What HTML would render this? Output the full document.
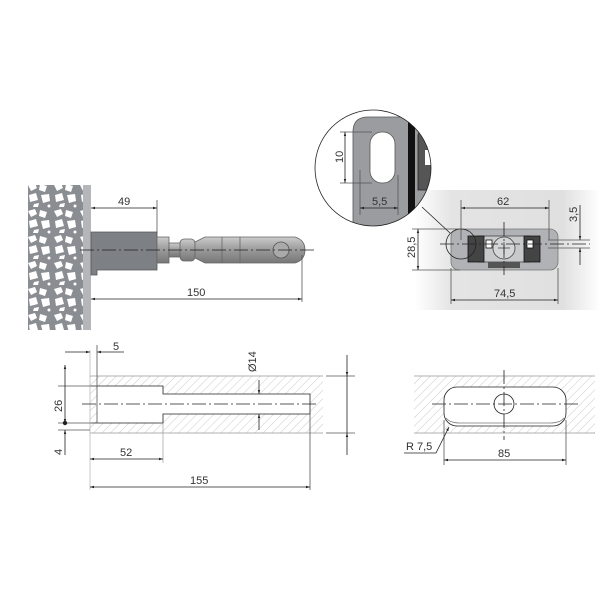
<!DOCTYPE html>
<html><head><meta charset="utf-8"><style>
html,body{margin:0;padding:0;background:#fff}
svg{display:block}
text{font-family:"Liberation Sans",sans-serif;font-size:11px;fill:#333}
</style></head><body>
<svg width="600" height="600" viewBox="0 0 600 600" xmlns="http://www.w3.org/2000/svg">
<defs>
<pattern id="h" width="6" height="6" patternUnits="userSpaceOnUse" patternTransform="rotate(45)">
<line x1="0" y1="0" x2="0" y2="6" stroke="#bbb" stroke-width="0.8"/>
</pattern>
<marker id="a" viewBox="0 0 10 10" refX="10" refY="5" markerWidth="7" markerHeight="5" orient="auto-start-reverse"><path d="M0,2L10,5L0,8z" fill="#222"/></marker>
<linearGradient id="g" x1="0" x2="1"><stop offset="0" stop-color="#fff"/><stop offset="0.2" stop-color="#e4e4e4"/><stop offset="0.8" stop-color="#e0e0e0"/><stop offset="1" stop-color="#fff"/></linearGradient>
<linearGradient id="sh" x1="0" y1="0" x2="0" y2="1"><stop offset="0" stop-color="#ccc"/><stop offset="0.5" stop-color="#999"/><stop offset="1" stop-color="#777"/></linearGradient>
<pattern id="st" width="26" height="26" patternUnits="userSpaceOnUse">
<rect width="26" height="26" fill="#8a8d92"/>
<path d="M2,3 L9,1 L11,6 L5,9 Z" fill="#fff"/>
<path d="M14,2 L21,4 L19,10 L13,8 Z" fill="#fff"/>
<path d="M3,13 L10,11 L12,18 L4,20 Z" fill="#fff"/>
<path d="M15,13 L23,12 L24,19 L17,21 Z" fill="#fff"/>
<path d="M8,22 L13,21 L12,25 L7,25 Z" fill="#fff"/>
<circle cx="23" cy="24" r="1.5" fill="#fff"/>
</pattern>
<clipPath id="c"><circle cx="373" cy="168" r="58"/></clipPath>
</defs>
<g stroke="#222" stroke-width="0.8" fill="none">

<!-- TOP LEFT -->
<rect x="28" y="185" width="58" height="145" fill="url(#st)" stroke="none"/>
<rect x="83" y="185" width="8" height="145" fill="#b4b6b9" stroke="none"/>
<path d="M91,232 H157 V270 H97 V275 H91 Z" fill="#7d8085" stroke="#555"/>
<rect x="157" y="237" width="12" height="26" fill="url(#sh)" stroke="#666"/>
<rect x="169" y="243" width="22" height="14" fill="url(#sh)" stroke="#666"/>
<rect x="180" y="239" width="15" height="22" rx="4" fill="url(#sh)" stroke="#666"/>
<path d="M195,242 L205,237 H295 Q305,240 305,250 Q305,260 295,263 H205 L195,258 Z" fill="url(#sh)" stroke="#666"/>
<line x1="222" y1="237" x2="222" y2="263" stroke="#666"/><line x1="240" y1="237" x2="240" y2="263" stroke="#666"/>
<circle cx="281" cy="250" r="8" fill="#aaa" stroke="#555"/>
<line x1="80" y1="250" x2="316" y2="250" stroke-dasharray="14,3,2,3"/>
<line x1="157" y1="200" x2="157" y2="234" stroke="#555"/>
<line x1="91" y1="208" x2="157" y2="208" marker-start="url(#a)" marker-end="url(#a)"/>
<line x1="302" y1="255" x2="302" y2="302" stroke="#555"/>
<line x1="91" y1="299" x2="302" y2="299" marker-start="url(#a)" marker-end="url(#a)"/>

<!-- TOP RIGHT -->
<rect x="415" y="190" width="185" height="120" fill="url(#g)" stroke="none"/>
<rect x="451" y="229" width="107" height="41" rx="8" fill="#b0b2b5" stroke="#777"/>
<rect x="478" y="236" width="52" height="26" fill="#c8c9cb" stroke="#444"/>
<path d="M468,236 H484 V262 H468 Z" fill="#444" stroke="#111"/>
<path d="M524,236 H540 V262 H524 Z" fill="#444" stroke="#111"/>
<circle cx="504" cy="248" r="11" fill="#d5d6d8" stroke="#444"/>
<path d="M498,248 H510 M504,242 V254" stroke="#444"/>
<rect x="486" y="240" width="6" height="8" fill="#fff" stroke="#111"/>
<rect x="527" y="240" width="6" height="8" fill="#fff" stroke="#111"/>
<rect x="488" y="262" width="32" height="6" fill="#555" stroke="none"/>
<circle cx="461" cy="244" r="15"/>
<line x1="461" y1="200" x2="461" y2="240" stroke="#555"/><line x1="549" y1="200" x2="549" y2="240" stroke="#555"/>
<line x1="461" y1="208" x2="549" y2="208" marker-start="url(#a)" marker-end="url(#a)"/>
<line x1="451" y1="268" x2="451" y2="304" stroke="#555"/><line x1="558" y1="268" x2="558" y2="304" stroke="#555"/>
<line x1="451" y1="300" x2="558" y2="300" marker-start="url(#a)" marker-end="url(#a)"/>
<line x1="412" y1="229" x2="460" y2="229" stroke="#555"/><line x1="412" y1="270" x2="460" y2="270" stroke="#555"/>
<line x1="418" y1="229" x2="418" y2="270" marker-start="url(#a)" marker-end="url(#a)"/>
<line x1="440" y1="244" x2="590" y2="244" stroke-dasharray="14,3,2,3"/>
<line x1="504" y1="222" x2="504" y2="275" stroke-dasharray="14,3,2,3"/>
<line x1="548" y1="240" x2="590" y2="240" stroke="#555"/><line x1="548" y1="248" x2="590" y2="248" stroke="#555"/>
<line x1="580" y1="205" x2="580" y2="240" marker-end="url(#a)"/>
<line x1="580" y1="265" x2="580" y2="248" marker-end="url(#a)"/>
<line x1="422" y1="207" x2="450" y2="233"/>

<!-- magnifier -->
<circle cx="373" cy="168" r="58" fill="#fff" stroke="none"/>
<g clip-path="url(#c)">
<path d="M353,240 V132 Q353,117 368,117 H410 V240 Z" fill="#9a9ca0" stroke="#555"/>
<rect x="370" y="132" width="25" height="51" rx="12" fill="#fff" stroke="#555"/>
<rect x="408" y="110" width="7" height="130" fill="#111" stroke="none"/>
<rect x="415" y="110" width="30" height="130" fill="#9a9ca0" stroke="none"/>
<path d="M418,135 Q422,120 440,118 V190 H418 Z" fill="#555" stroke="#222"/>
<rect x="425" y="150" width="15" height="15" fill="#fff" stroke="none"/>
<line x1="340" y1="132" x2="372" y2="132" stroke="#555"/><line x1="340" y1="183" x2="372" y2="183" stroke="#555"/>
<line x1="345" y1="132" x2="345" y2="183" marker-start="url(#a)" marker-end="url(#a)"/>
<line x1="360" y1="170" x2="360" y2="215" stroke="#555"/><line x1="398" y1="175" x2="398" y2="215" stroke="#555"/>
<line x1="360" y1="208" x2="398" y2="208" marker-start="url(#a)" marker-end="url(#a)"/>
</g>
<circle cx="373" cy="168" r="58" stroke="#222"/>

<!-- BOTTOM LEFT -->
<path d="M90,376 H323 V433 H90 Z M97,386 V423 H163 V414 H310 V394 H163 V386 Z" fill="url(#h)" fill-rule="evenodd" stroke="none"/>
<line x1="90" y1="376" x2="323" y2="376" stroke="#999"/><line x1="90" y1="433" x2="323" y2="433" stroke="#999"/>
<path d="M90,386 H163 V394 H310 V414 H163 V423 H90" />
<line x1="97" y1="386" x2="97" y2="423" stroke="#555"/>
<line x1="90" y1="350" x2="90" y2="490" stroke="#bbb"/>
<line x1="82" y1="404" x2="318" y2="404" stroke-dasharray="14,3,2,3"/>
<line x1="65" y1="352" x2="90" y2="352" marker-end="url(#a)"/>
<line x1="124" y1="352" x2="97" y2="352" marker-end="url(#a)"/>
<line x1="97" y1="345" x2="97" y2="386" stroke="#555"/>
<line x1="58" y1="386" x2="90" y2="386" stroke="#555"/><line x1="58" y1="423" x2="90" y2="423" stroke="#555"/>
<line x1="58" y1="430" x2="90" y2="430" stroke="#555"/>
<line x1="65" y1="365" x2="65" y2="423" marker-start="url(#a)" marker-end="url(#a)"/>
<circle cx="65" cy="423" r="1.8" fill="#222"/>
<line x1="65" y1="455" x2="65" y2="430" marker-end="url(#a)"/>
<line x1="259" y1="380" x2="259" y2="394" marker-end="url(#a)"/>
<line x1="259" y1="430" x2="259" y2="414" marker-end="url(#a)"/>
<line x1="326" y1="376" x2="355" y2="376" stroke="#555"/><line x1="326" y1="433" x2="355" y2="433" stroke="#555"/>
<line x1="347" y1="355" x2="347" y2="376" marker-end="url(#a)"/>
<line x1="347" y1="455" x2="347" y2="433" marker-end="url(#a)"/>
<line x1="347" y1="376" x2="347" y2="433"/>
<line x1="163" y1="423" x2="163" y2="463" stroke="#aaa"/>
<line x1="90" y1="459" x2="163" y2="459" marker-start="url(#a)" marker-end="url(#a)"/>
<line x1="310" y1="414" x2="310" y2="490" stroke="#555"/>
<line x1="90" y1="487" x2="310" y2="487" marker-start="url(#a)" marker-end="url(#a)"/>

<!-- BOTTOM RIGHT -->
<path d="M414,376 H595 V433 H414 Z M457,387 H553 A13,13 0 0 1 566,400 V413 A13,13 0 0 1 553,426 H457 A13,13 0 0 1 444,413 V400 A13,13 0 0 1 457,387 Z" fill="url(#h)" fill-rule="evenodd" stroke="none"/>
<line x1="414" y1="376" x2="595" y2="376" stroke="#999"/><line x1="414" y1="433" x2="595" y2="433" stroke="#999"/>
<rect x="444" y="387" width="122" height="39" rx="13"/>
<path d="M446,418 Q450,423 460,423 H550 Q560,423 564,418" stroke="#777"/>
<circle cx="504" cy="404" r="10"/>
<line x1="432" y1="404" x2="578" y2="404" stroke-dasharray="14,3,2,3"/>
<line x1="504" y1="370" x2="504" y2="440" stroke-dasharray="14,3,2,3"/>
<line x1="444" y1="420" x2="444" y2="465" stroke="#555"/><line x1="566" y1="420" x2="566" y2="465" stroke="#555"/>
<line x1="444" y1="460" x2="566" y2="460" marker-start="url(#a)" marker-end="url(#a)"/>
<polyline points="404,453 436,453 449,427" marker-end="url(#a)"/>
</g>

<text x="118" y="205">49</text>
<text x="187" y="296">150</text>
<text x="497" y="205">62</text>
<text x="494" y="297">74,5</text>
<text transform="translate(415,258) rotate(-90)">28,5</text>
<text transform="translate(577,222) rotate(-90)">3,5</text>
<text transform="translate(343,163) rotate(-90)">10</text>
<text x="372" y="205">5,5</text>
<text x="113" y="350">5</text>
<text transform="translate(62,412) rotate(-90)">26</text>
<text transform="translate(62,455) rotate(-90)">4</text>
<text transform="translate(256,372) rotate(-90)">Ø14</text>
<text x="120" y="456">52</text>
<text x="190" y="484">155</text>
<text x="406" y="450">R 7,5</text>
<text x="498" y="457">85</text>
</svg>
</body></html>
